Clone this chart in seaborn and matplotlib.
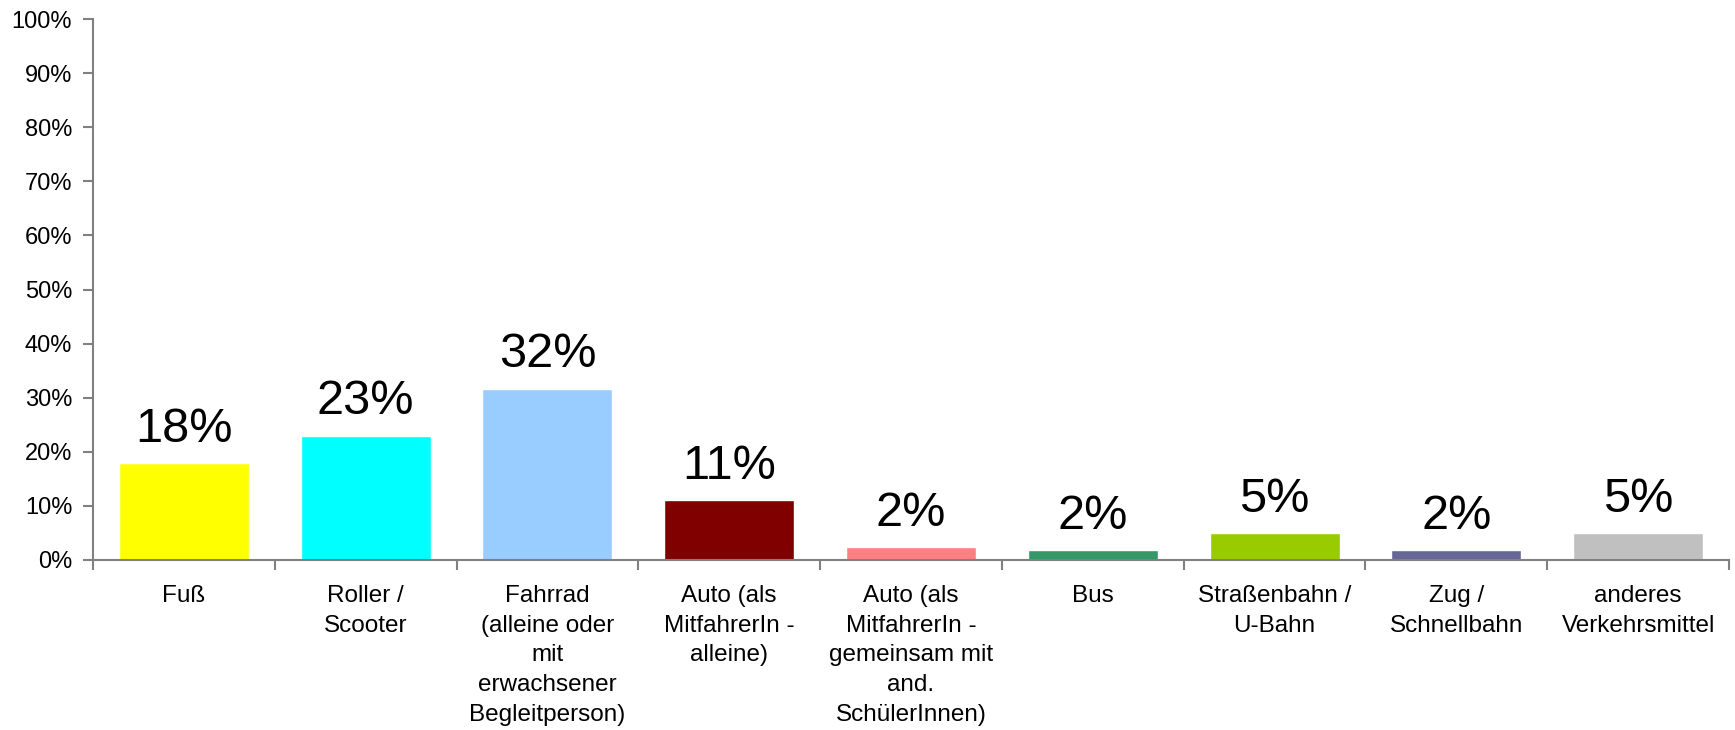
import matplotlib
matplotlib.use("Agg")
import matplotlib.pyplot as plt
import seaborn as sns
import numpy as np
import pandas as pd
from matplotlib.ticker import PercentFormatter

categories = [
    "Fuß",
    "Roller /\nScooter",
    "Fahrrad\n(alleine oder\nmit\nerwachsener\nBegleitperson)",
    "Auto (als\nMitfahrerIn -\nalleine)",
    "Auto (als\nMitfahrerIn -\ngemeinsam mit\nand.\nSchülerInnen)",
    "Bus",
    "Straßenbahn /\nU-Bahn",
    "Zug /\nSchnellbahn",
    "anderes\nVerkehrsmittel",
]
values = [0.180, 0.230, 0.317, 0.111, 0.024, 0.019, 0.050, 0.019, 0.050]
value_labels = ["18%", "23%", "32%", "11%", "2%", "2%", "5%", "2%", "5%"]
colors = ["#FFFF00", "#00FFFF", "#99CCFF", "#800000", "#FF8080",
          "#339966", "#99CC00", "#666699", "#C0C0C0"]
y_ticks = [0.0, 0.1, 0.2, 0.3, 0.4, 0.5, 0.6, 0.7, 0.8, 0.9, 1.0]

sns.set_theme(style="white")
plt.rcParams["font.family"] = ["Liberation Sans", "DejaVu Sans"]

df = pd.DataFrame({"cat": categories, "val": values})

fig = plt.figure(figsize=(17.35, 7.30), dpi=100)
ax = fig.add_axes([93 / 1735, 1 - 560 / 730, (1729 - 93) / 1735, (560 - 19) / 730])

sns.barplot(data=df, x="cat", y="val", hue="cat", palette=colors,
            legend=False, width=0.715, ax=ax, saturation=1)

for i, (v, lab) in enumerate(zip(values, value_labels)):
    ax.annotate(lab, (i, v), xytext=(0, 8), textcoords="offset points",
                ha="center", va="bottom", fontsize=35, color="black")

ax.set_xlim(-0.5, len(categories) - 0.5)
ax.set_ylim(0, 1)
ax.set_yticks(y_ticks)
ax.yaxis.set_major_formatter(PercentFormatter(1.0, decimals=0))
ax.set_xticks(np.arange(-0.5, len(categories), 1.0))
ax.set_xticklabels([""] * (len(categories) + 1))
ax.set_xticks(range(len(categories)), minor=True)
ax.set_xticklabels(categories, minor=True, fontsize=17.5, linespacing=1.45, color="black")
ax.tick_params(axis="x", which="minor", length=0, pad=18)
ax.tick_params(axis="x", which="major", length=7, width=1.5, color="#808080", direction="out", bottom=True)
ax.tick_params(axis="y", length=7, width=1.5, color="#808080", direction="out", left=True,
               labelsize=17, pad=8, labelcolor="black")
ax.set_xlabel("")
ax.set_ylabel("")
for s in ["top", "right"]:
    ax.spines[s].set_visible(False)
for s in ["left", "bottom"]:
    ax.spines[s].set_color("#808080")
    ax.spines[s].set_linewidth(1.5)
ax.grid(False)

fig.savefig("out.png", dpi=100, facecolor="white")
